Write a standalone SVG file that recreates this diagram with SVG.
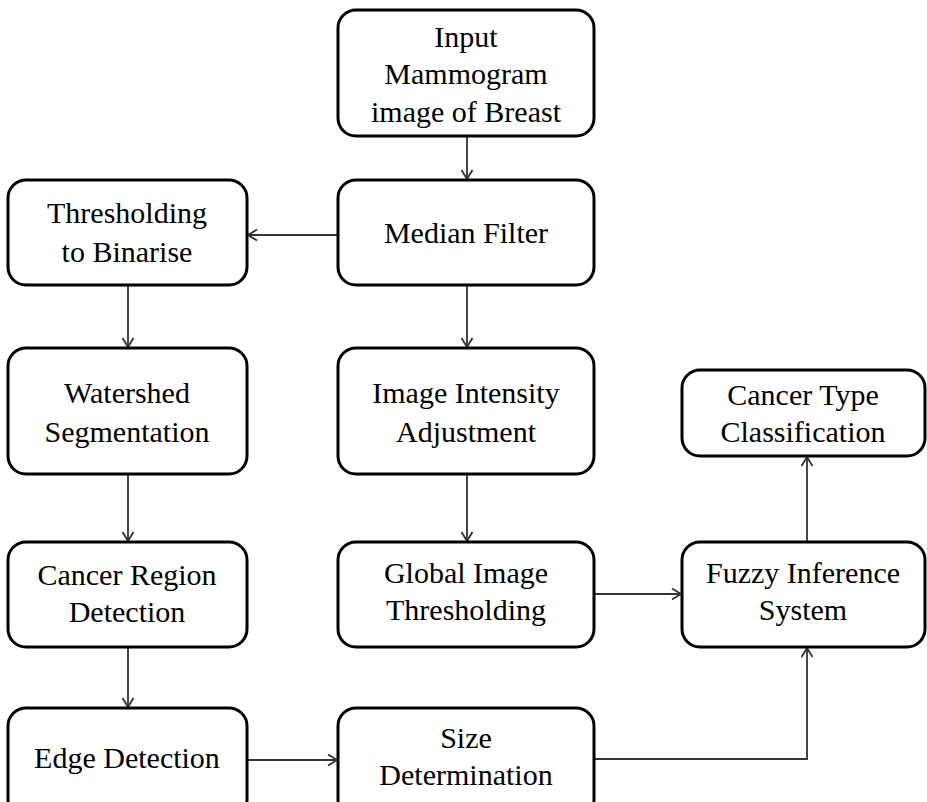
<svg xmlns="http://www.w3.org/2000/svg" width="927" height="802" viewBox="0 0 927 802">
<style>
.box{fill:#fff;stroke:#000;stroke-width:3}
.t{font-family:"Liberation Serif","Times New Roman",serif;font-size:30px;fill:#000;text-anchor:middle}
.c{fill:none;stroke:#333;stroke-width:1.8}
</style>
<defs>
<marker id="arr" markerUnits="userSpaceOnUse" markerWidth="14" markerHeight="14" refX="10" refY="6" orient="auto">
<path d="M1,0.5 L10,6 L1,11.5" fill="none" stroke="#333" stroke-width="1.8"/>
</marker>
</defs>
<rect width="927" height="802" fill="#fff"/>
<g id="connectors">
<line class="c" x1="467" y1="136" x2="467" y2="179" marker-end="url(#arr)"/>
<line class="c" x1="338" y1="235" x2="248" y2="235" marker-end="url(#arr)"/>
<line class="c" x1="467" y1="285" x2="467" y2="347" marker-end="url(#arr)"/>
<line class="c" x1="128" y1="285" x2="128" y2="347" marker-end="url(#arr)"/>
<line class="c" x1="128" y1="474" x2="128" y2="541" marker-end="url(#arr)"/>
<line class="c" x1="467" y1="474" x2="467" y2="541" marker-end="url(#arr)"/>
<line class="c" x1="128" y1="647" x2="128" y2="707" marker-end="url(#arr)"/>
<line class="c" x1="247" y1="760" x2="337" y2="760" marker-end="url(#arr)"/>
<line class="c" x1="594" y1="594" x2="681" y2="594" marker-end="url(#arr)"/>
<polyline class="c" points="594,759 807,759 807,648" marker-end="url(#arr)"/>
<line class="c" x1="807" y1="542" x2="807" y2="457" marker-end="url(#arr)"/>
</g>
<g id="input">
<rect class="box" x="338" y="10" width="256" height="126" rx="18"/>
<text class="t" x="466" y="47">Input</text>
<text class="t" x="466" y="84">Mammogram</text>
<text class="t" x="466" y="122">image of Breast</text>
</g>
<g id="median">
<rect class="box" x="338" y="180" width="256" height="105" rx="18"/>
<text class="t" x="466" y="243">Median Filter</text>
</g>
<g id="threshold">
<rect class="box" x="8" y="180" width="239" height="105" rx="18"/>
<text class="t" x="127" y="223">Thresholding</text>
<text class="t" x="127" y="262">to Binarise</text>
</g>
<g id="watershed">
<rect class="box" x="8" y="348" width="239" height="126" rx="18"/>
<text class="t" x="127" y="403">Watershed</text>
<text class="t" x="127" y="442">Segmentation</text>
</g>
<g id="intensity">
<rect class="box" x="338" y="348" width="256" height="126" rx="18"/>
<text class="t" x="466" y="403">Image Intensity</text>
<text class="t" x="466" y="442">Adjustment</text>
</g>
<g id="classification">
<rect class="box" x="682" y="370" width="243" height="86" rx="18"/>
<text class="t" x="803" y="405">Cancer Type</text>
<text class="t" x="803" y="442">Classification</text>
</g>
<g id="region">
<rect class="box" x="8" y="542" width="239" height="105" rx="18"/>
<text class="t" x="127" y="585">Cancer Region</text>
<text class="t" x="127" y="622">Detection</text>
</g>
<g id="global">
<rect class="box" x="338" y="542" width="256" height="105" rx="18"/>
<text class="t" x="466" y="583">Global Image</text>
<text class="t" x="466" y="620">Thresholding</text>
</g>
<g id="fuzzy">
<rect class="box" x="682" y="542" width="243" height="105" rx="18"/>
<text class="t" x="803" y="583">Fuzzy Inference</text>
<text class="t" x="803" y="620">System</text>
</g>
<g id="edge">
<rect class="box" x="8" y="708" width="239" height="110" rx="18"/>
<text class="t" x="127" y="768">Edge Detection</text>
</g>
<g id="size">
<rect class="box" x="338" y="708" width="256" height="110" rx="18"/>
<text class="t" x="466" y="748">Size</text>
<text class="t" x="466" y="785">Determination</text>
</g>
</svg>
